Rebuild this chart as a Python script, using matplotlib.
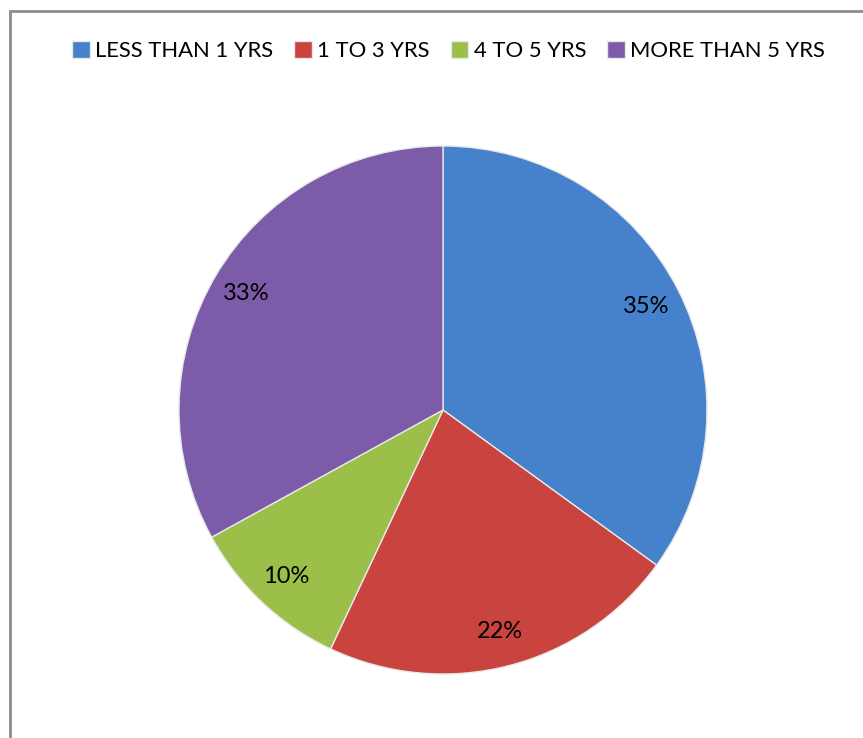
from matplotlib import pyplot as plt
from matplotlib.patches import Rectangle

labels = ['LESS THAN 1 YRS', '1 TO 3 YRS', '4 TO 5 YRS', 'MORE THAN 5 YRS']
shares = [35, 22, 10, 33]
colors = ['#4681cc', '#c9433f', '#9cbf4a', '#7c5ca8']

plt.rcParams['font.family'] = ['Lato', 'DejaVu Sans']

fig = plt.figure(figsize=(8.63, 7.38), dpi=100)
ax = fig.add_axes([179 / 863, 64 / 738, 528 / 863, 528 / 738])

wedges, texts, autotexts = ax.pie(
    shares, colors=colors, startangle=90, counterclock=False,
    autopct='%d%%', pctdistance=0.865,
    wedgeprops=dict(edgecolor='#e8e8e8', linewidth=1.0),
    textprops=dict(fontsize=17, color='black'))
ax.set_aspect('equal')
ax.set_xlim(-1, 1)
ax.set_ylim(-1, 1)

# outer frame of the chart area
fig.add_artist(Rectangle((10 / 863, -0.1), 2, 1 - 11 / 738 + 0.1,
                         transform=fig.transFigure, fill=False,
                         edgecolor='#8c8c8c', linewidth=2))

fig.legend(wedges, labels, loc='center', bbox_to_anchor=(0.52, 1 - 51 / 738),
           ncol=4, frameon=False, fontsize=15.8, handlelength=0.8,
           handleheight=0.8, handletextpad=0.25, columnspacing=0.95)

fig.savefig('out.png', dpi=100)
